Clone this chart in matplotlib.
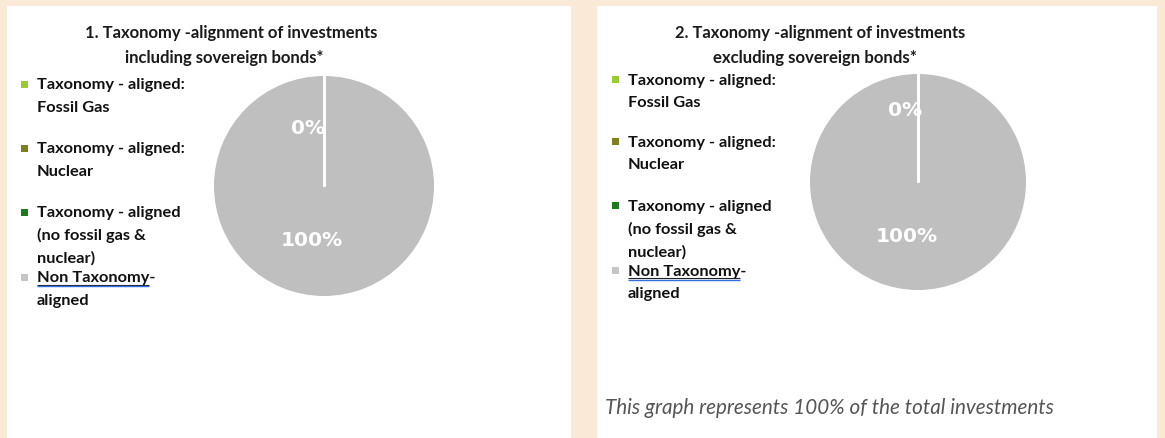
import matplotlib
matplotlib.use("Agg")
import numpy as np
import matplotlib.pyplot as plt
from matplotlib.patches import Rectangle

# ---------------- data ----------------
categories = [
    "Taxonomy - aligned:\nFossil Gas",
    "Taxonomy - aligned:\nNuclear",
    "Taxonomy - aligned\n(no fossil gas &\nnuclear)",
    "Non Taxonomy-\naligned",
]
colors = ["#9acb34", "#7f7f1f", "#1f7a1f", "#c6c6c6"]
pie_colors = ["#9acb34", "#7f7f1f", "#1f7a1f", "#bfbfbf"]
incl_values = [0, 0, 0, 100]
excl_values = [0, 0, 0, 100]
titles_incl = ["1. Taxonomy -alignment of investments", "including sovereign bonds*"]
titles_excl = ["2. Taxonomy -alignment of investments", "excluding sovereign bonds*"]
footer = "This graph represents 100% of the total investments"

W, H = 1165, 439
BEIGE = "#fbe9d7"
fig = plt.figure(figsize=(W / 100, H / 100), dpi=100)
fig.patch.set_facecolor(BEIGE)

# overlay axes in pixel coords (top-left origin)
ov = fig.add_axes([0, 0, 1, 1])
ov.set_xlim(0, W)
ov.set_ylim(H, 0)
ov.axis("off")
ov.add_patch(Rectangle((7, 7), 564, 440, facecolor="white", edgecolor="none"))
ov.add_patch(Rectangle((597, 7), 560, 440, facecolor="white", edgecolor="none"))

renderer = fig.canvas.get_renderer()

BOLD_FAM = ["Lato", "DejaVu Sans"]


def fit_text(x, y, s, target_w, ha="left", **kw):
    t = ov.text(x, y, s, ha=ha, va="center", fontsize=10, **kw)
    w = t.get_window_extent(renderer).width
    t.set_fontsize(10 * target_w / w)
    return t


def text_width(s, fontsize, **kw):
    t = ov.text(0, 0, s, fontsize=fontsize, **kw)
    w = t.get_window_extent(renderer).width
    t.remove()
    return w


def panel(values, titles, title_pos, title_w, pie_c, r, leg_x, entry_y, lab_off):
    # titles
    for (tx, ty), tw, s in zip(title_pos, title_w, titles):
        fit_text(tx, ty, s, tw, ha="center", family=BOLD_FAM, fontweight="bold",
                 color="#1a1a1a")
    # legend
    ref = fit_text(-500, -500, "Taxonomy - aligned:", 148, family=BOLD_FAM,
                   fontweight="bold")
    fs = ref.get_fontsize()
    ref.remove()
    for lab, col, y0 in zip(categories, colors, entry_y):
        ov.add_patch(Rectangle((leg_x - 15.5, y0 - 3.5), 7, 7, facecolor=col,
                               edgecolor="none"))
        for i, line in enumerate(lab.split("\n")):
            ov.text(leg_x, y0 + i * 22.7, line, ha="left", va="center",
                    fontsize=fs, family=BOLD_FAM, fontweight="bold", color="#111111")
        if lab.startswith("Non Taxonomy"):
            uw = text_width("Non Taxonomy", fs, family=BOLD_FAM, fontweight="bold")
            ov.plot([leg_x, leg_x + uw], [y0 + 7.6, y0 + 7.6], color="#222222",
                    lw=0.8, solid_capstyle="butt")
            ov.plot([leg_x, leg_x + uw], [y0 + 9.0, y0 + 9.0], color="#2f6fe0",
                    lw=1.0, solid_capstyle="butt")
    # pie
    cx, cy = pie_c
    ax = fig.add_axes([(cx - r) / W, 1 - (cy + r) / H, 2 * r / W, 2 * r / H])
    wedges, texts, autos = ax.pie(
        values, colors=pie_colors, startangle=90, counterclock=True,
        autopct="%.0f%%", pctdistance=0.5,
        wedgeprops=dict(edgecolor="none", linewidth=0),
        textprops=dict(color="white", fontweight="bold", fontsize=14.5,
                       family="DejaVu Sans"),
    )
    # white boundary lines between slices (from wedge angles)
    for wdg in wedges:
        a = np.deg2rad(wdg.theta1)
        ax.plot([0, round(np.cos(a), 9)], [0, round(np.sin(a), 9)], color="white",
                lw=2, solid_capstyle="butt", zorder=3)
    ax.set_xlim(-1, 1)
    ax.set_ylim(-1, 1)
    ax.set_aspect("auto")
    ax.axis("off")
    shown_zero = False
    for t, v in zip(autos, values):
        t.set_zorder(4)
        if v == 0:
            if shown_zero:
                t.set_visible(False)
                continue
            shown_zero = True
            dx, fy = lab_off[0]
        else:
            dx, fy = lab_off[1]
        x, y = t.get_position()
        t.set_position((x + dx, fy if y > 0 else -fy))
    return ax


panel(incl_values, titles_incl, [(231, 32.7), (224, 57.7)], [293, 200],
      (324, 187), 110, 36.7, [85, 149, 213, 278],
      [(-0.145, 0.53), (-0.11, 0.49)])
panel(excl_values, titles_excl, [(819.7, 32.7), (815, 57.7)], [293, 205],
      (918, 183), 108, 627.8, [80.7, 142.7, 206.7, 271.7],
      [(-0.12, 0.67), (-0.10, 0.50)])

fit_text(605, 408, footer, 447, family=["Lato", "DejaVu Sans"], style="italic",
         fontweight="normal", color="#555555")

fig.savefig("out.png", dpi=100, facecolor=fig.get_facecolor())
